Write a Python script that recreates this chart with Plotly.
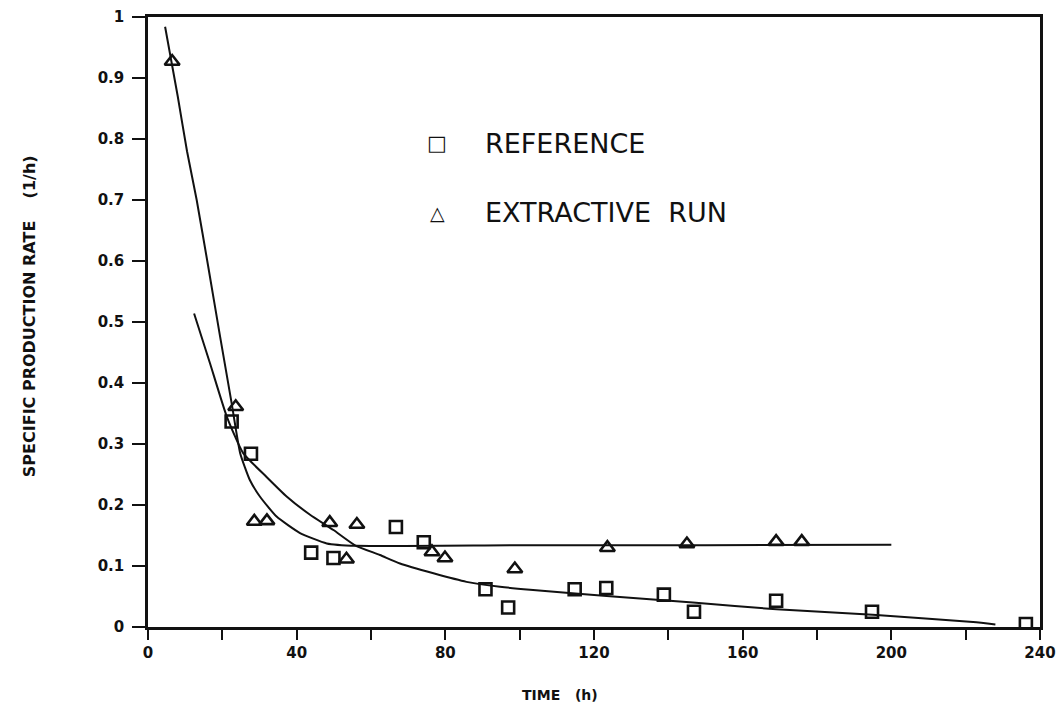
import plotly.graph_objects as go

# ---- data ----
ref_time = [22.5, 27.7, 43.9, 49.9, 66.7, 74.2, 90.8, 96.9, 114.8, 123.3, 138.8, 146.9, 169.0, 194.8, 236.2]
ref_rate = [0.337, 0.284, 0.122, 0.113, 0.164, 0.139, 0.062, 0.032, 0.062, 0.064, 0.053, 0.025, 0.043, 0.025, 0.005]

ext_time = [6.5, 23.6, 28.6, 32.0, 48.9, 53.4, 56.2, 76.4, 79.9, 98.7, 123.6, 145.0, 169.0, 175.9]
ext_rate = [0.927, 0.361, 0.173, 0.174, 0.171, 0.111, 0.168, 0.123, 0.113, 0.095, 0.130, 0.136, 0.140, 0.140]

ref_fit_time = [12.4, 16.7, 21.2, 25.6, 31.9, 37.3, 43.6, 49.9, 55.7, 62.4, 67.8, 76.8, 85.7, 94.7, 102.8,
                123.4, 146.6, 169.1, 195.0, 222.0, 228.0]
ref_fit_rate = [0.514, 0.432, 0.345, 0.285, 0.246, 0.214, 0.184, 0.159, 0.134, 0.118, 0.104, 0.088, 0.074,
                0.066, 0.061, 0.051, 0.040, 0.029, 0.020, 0.008, 0.004]

ext_fit_time = [4.6, 8.0, 10.5, 13.1, 16.2, 19.4, 22.5, 24.8, 27.4, 30.1, 34.6, 40.9, 48.1, 56.1, 100.0, 150.0, 200.0]
ext_fit_rate = [0.984, 0.870, 0.780, 0.700, 0.591, 0.476, 0.367, 0.285, 0.241, 0.214, 0.181, 0.154, 0.137,
                0.133, 0.134, 0.134, 0.135]

x_tick_vals = [0, 20, 40, 60, 80, 100, 120, 140, 160, 180, 200, 220, 240]
x_tick_text = ["0", "", "40", "", "80", "", "120", "", "160", "", "200", "", "240"]
y_tick_vals = [0, 0.1, 0.2, 0.3, 0.4, 0.5, 0.6, 0.7, 0.8, 0.9, 1]
y_tick_text = ["0", "0.1", "0.2", "0.3", "0.4", "0.5", "0.6", "0.7", "0.8", "0.9", "1"]

legend_labels = ["REFERENCE", "EXTRACTIVE  RUN"]
x_title = "TIME   (h)"
y_title = "SPECIFIC PRODUCTION RATE    (1/h)"

BLACK = "#111111"

fig = go.Figure()
fig.add_trace(go.Scatter(x=ref_fit_time, y=ref_fit_rate, mode="lines",
                         line=dict(color=BLACK, width=2, shape="spline", smoothing=0.5),
                         showlegend=False, hoverinfo="skip"))
fig.add_trace(go.Scatter(x=ext_fit_time, y=ext_fit_rate, mode="lines",
                         line=dict(color=BLACK, width=2, shape="spline", smoothing=0.5),
                         showlegend=False, hoverinfo="skip"))
fig.add_trace(go.Scatter(x=ref_time, y=ref_rate, mode="markers", name=legend_labels[0],
                         marker=dict(symbol="square-open", size=12, color=BLACK, line=dict(width=2.6, color=BLACK)),
                         showlegend=False))
fig.add_trace(go.Scatter(x=ext_time, y=ext_rate, mode="markers", name=legend_labels[1],
                         marker=dict(symbol="triangle-up-open", size=13, color=BLACK, line=dict(width=2.6, color=BLACK)),
                         showlegend=False))

tick_font = dict(family="DejaVu Sans", size=15, color=BLACK, weight="bold")

fig.update_layout(
    template="none",
    width=1059, height=709,
    margin=dict(l=148, r=19, t=17, b=82),
    paper_bgcolor="white", plot_bgcolor="white",
    showlegend=False,
    xaxis=dict(range=[0, 240], tickvals=x_tick_vals, ticktext=x_tick_text, ticks="outside",
               ticklen=10, tickwidth=2, tickcolor=BLACK, showline=True, linewidth=2.5, linecolor=BLACK,
               mirror=True, showgrid=False, zeroline=False, tickfont=tick_font, automargin=False),
    yaxis=dict(range=[0, 1], tickvals=y_tick_vals, ticktext=y_tick_text, ticks="outside",
               ticklen=13, tickwidth=2, tickcolor=BLACK, showline=True, linewidth=2.5, linecolor=BLACK,
               mirror=True, showgrid=False, zeroline=False, tickfont=tick_font, automargin=False,
               ticklabelstandoff=5),
)

legend_font = dict(family="DejaVu Sans", size=27, color=BLACK)
# legend (drawn as text, placed in paper coordinates)
fig.add_annotation(xref="paper", yref="paper", x=0.324, y=0.793, text="\u25a1", showarrow=False,
                   font=dict(family="DejaVu Sans", size=21, color=BLACK), xanchor="center", yanchor="middle")
fig.add_annotation(xref="paper", yref="paper", x=0.376, y=0.793, text=legend_labels[0], showarrow=False,
                   font=legend_font, xanchor="left", yanchor="middle")
fig.add_annotation(xref="paper", yref="paper", x=0.324, y=0.679, text="\u25b3", showarrow=False,
                   font=dict(family="DejaVu Sans", size=19, color=BLACK), xanchor="center", yanchor="middle")
fig.add_annotation(xref="paper", yref="paper", x=0.376, y=0.679, text=legend_labels[1], showarrow=False,
                   font=legend_font, xanchor="left", yanchor="middle")

# axis titles
fig.add_annotation(xref="paper", yref="paper", x=0.462, y=-0.112, text=x_title, showarrow=False,
                   font=dict(family="DejaVu Sans", size=14, color=BLACK, weight="bold"),
                   xanchor="center", yanchor="middle")
fig.add_annotation(xref="paper", yref="paper", x=-0.132, y=0.51, text=y_title, showarrow=False,
                   textangle=-90, font=dict(family="DejaVu Sans", size=16, color=BLACK, weight="bold"),
                   xanchor="center", yanchor="middle")

fig.write_html("out.html")
